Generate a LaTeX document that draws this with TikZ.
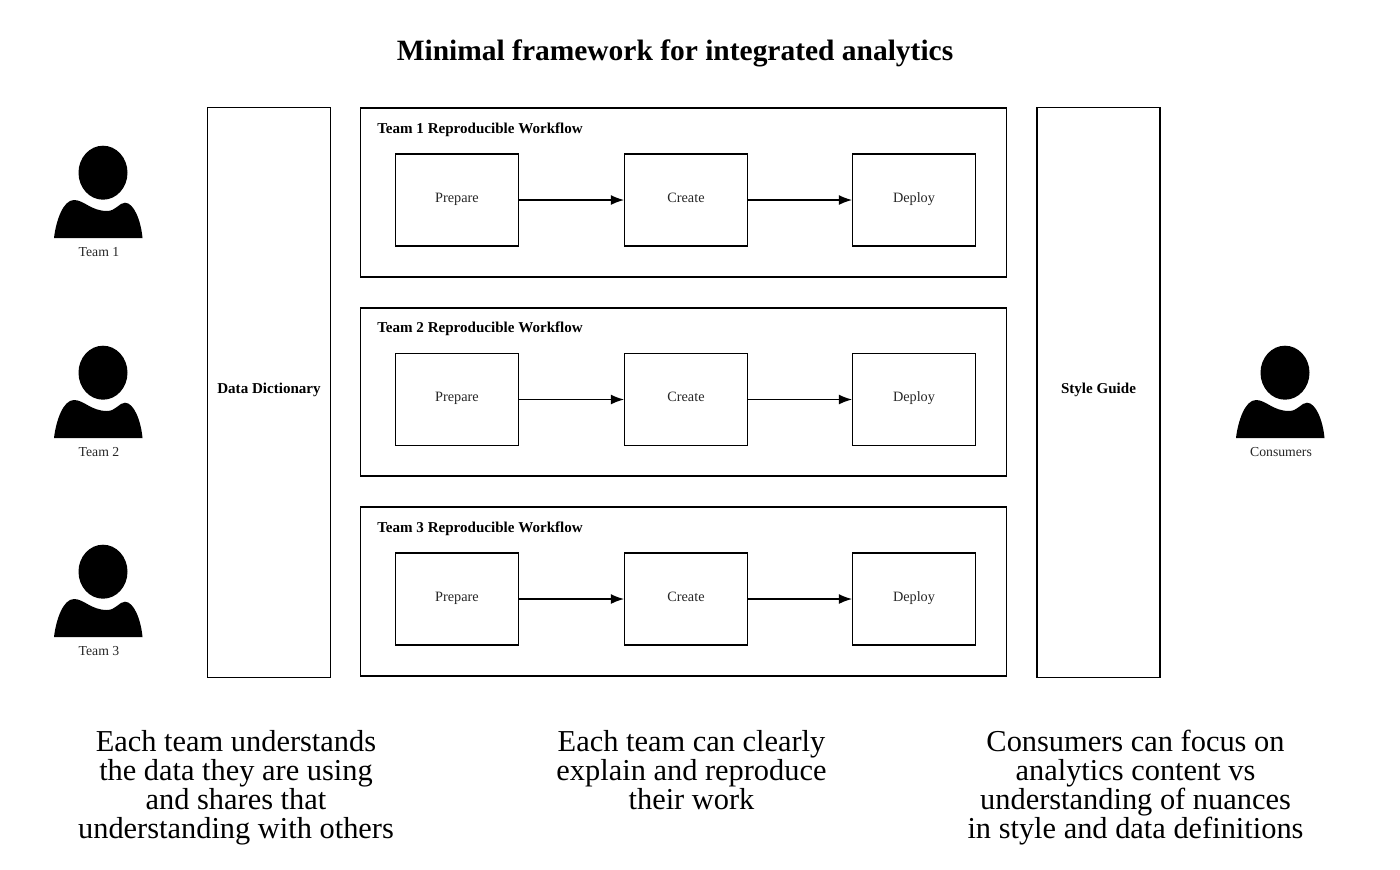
\documentclass[tikz,border=0pt]{standalone}
\usepackage{fontspec}
\setmainfont{Liberation Serif}
\usetikzlibrary{arrows.meta}
\tikzset{
  px/.style={x=0.75pt,y=-0.75pt},
  outline/.style={draw=black,line width=1.4pt,inner sep=0pt},
  sidebox/.style={outline,minimum width=92.25pt,minimum height=427.5pt},
  workflowbox/.style={outline,minimum width=484.5pt,minimum height=126.5pt},
  stagebox/.style={outline,minimum width=92.25pt,minimum height=69pt},
  stagelabel/.style={font=\fontsize{10.7}{12}\selectfont,text=black!85,inner sep=0pt,anchor=base},
  flow/.style={draw=black,line width=1.3pt,-{Latex[length=10pt,width=7.5pt]},shorten >=-0.5pt},
  boxtitle/.style={font=\fontsize{11.3}{13}\bfseries\selectfont,anchor=base west,inner sep=0pt},
  sidetitle/.style={font=\fontsize{11.3}{13}\bfseries\selectfont,inner sep=0pt,anchor=base},
  personlabel/.style={font=\fontsize{10.3}{12}\selectfont,inner sep=0pt,anchor=base,text=black!85},
  note/.style={font=\fontsize{22.8}{21.75}\selectfont,align=center,inner sep=0pt,anchor=base},
  person/.pic={
    \fill (0,-65.3) ellipse [x radius=24.5,y radius=27];
    \fill (-49,0) .. controls (-47,-17) and (-40,-38) .. (-29,-38)
      .. controls (-19,-38) and (-12,-27) .. (4,-27)
      .. controls (13,-27) and (16,-35.3) .. (22,-35.3)
      .. controls (31,-35.3) and (38,-17) .. (39.5,0) -- cycle;
  }
}
\begin{document}
\begin{tikzpicture}[px]
\useasboundingbox (0,0) rectangle (1400,869);
\node[font=\fontsize{22.1}{26}\bfseries\selectfont,anchor=base,inner sep=0pt] (title) at (675,60) {Minimal framework for integrated analytics};

\pic at (103,238) {person};
\pic at (103,438) {person};
\pic at (103,637) {person};
\pic at (1285,438) {person};
\node[personlabel] (t1) at (99,256) {Team 1};
\node[personlabel] (t2) at (99,456) {Team 2};
\node[personlabel] (t3) at (99,655) {Team 3};
\node[personlabel] (cons) at (1281,456) {Consumers};

\node[sidebox] (dict) at (269,392.5) {};
\node[sidetitle] (dictlabel) at (269,393.5) {Data Dictionary};
\node[sidebox] (style) at (1098.5,392.5) {};
\node[sidetitle] (stylelabel) at (1098.5,393.5) {Style Guide};

\foreach \i/\top in {1/108,2/307.5,3/507}{
  \node[workflowbox] (w\i) at (683.5,\top+84.5) {};
  \node[boxtitle] (wt\i) at (377,\top+25) {Team \i\ Reproducible Workflow};
  \node[stagebox] (p\i) at (457,\top+92) {};
  \node[stagebox] (c\i) at (686,\top+92) {};
  \node[stagebox] (d\i) at (914,\top+92) {};
  \node[stagelabel] (pl\i) at (457,\top+94) {Prepare};
  \node[stagelabel] (cl\i) at (686,\top+94) {Create};
  \node[stagelabel] (dl\i) at (914,\top+94) {Deploy};
  \draw[flow] (p\i) -- (c\i);
  \draw[flow] (c\i) -- (d\i);
}

\node[note] (n1) at (236,838) {Each team understands\\the data they are using\\and shares that\\understanding with others};
\node[note] (n2) at (691.5,809) {Each team can clearly\\explain and reproduce\\their work};
\node[note] (n3) at (1135.5,838) {Consumers can focus on\\analytics content vs\\understanding of nuances\\in style and data definitions};
\end{tikzpicture}
\end{document}
